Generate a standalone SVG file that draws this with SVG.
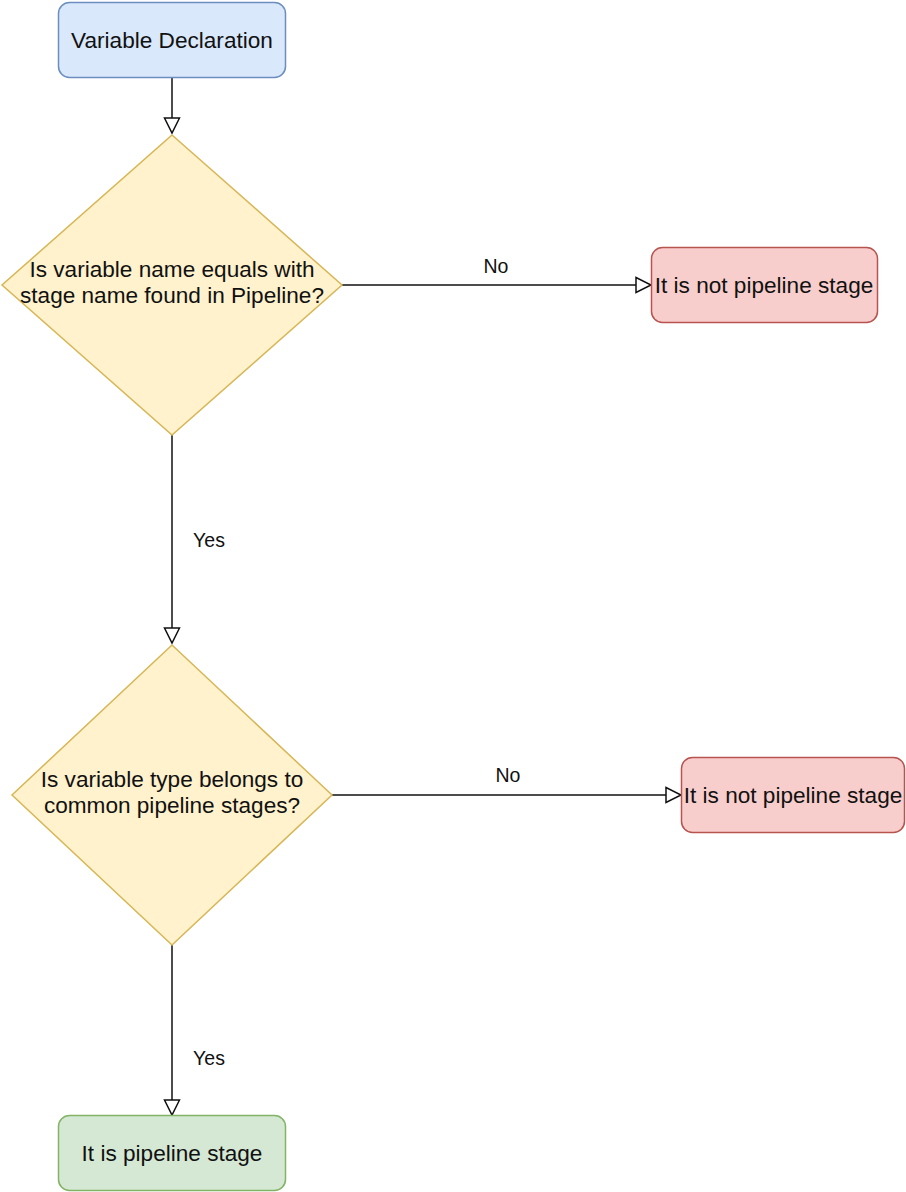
<svg xmlns="http://www.w3.org/2000/svg" width="906" height="1192" viewBox="0 0 906 1192">
<style>
.t{font-family:"Liberation Sans",Arial,sans-serif;font-size:22.6px;fill:#111;text-anchor:middle}
.l{font-family:"Liberation Sans",Arial,sans-serif;font-size:19.5px;fill:#111;text-anchor:middle}
.e{fill:none;stroke:#111;stroke-width:1.5}
.blue{fill:#dae8fc;stroke:#6c8ebf;stroke-width:1.5}
.yel{fill:#fff2cc;stroke:#d6b656;stroke-width:1.5}
.red{fill:#f8cecc;stroke:#b85450;stroke-width:1.5}
.grn{fill:#d5e8d4;stroke:#82b366;stroke-width:1.5}
</style>
<defs>
<marker id="arr" markerUnits="userSpaceOnUse" viewBox="0 0 18 18" markerWidth="18" markerHeight="18" refX="16.5" refY="9" orient="auto">
<path d="M1.5,1.5 L16.5,9 L1.5,16.5 Z" fill="#fff" stroke="#111" stroke-width="1.5"/>
</marker>
</defs>
<g id="connectors">
<path class="e" d="M172,77 L172,133" marker-end="url(#arr)"/>
<path class="e" d="M342,285 L651,285" marker-end="url(#arr)"/>
<text class="l" x="496" y="273">No</text>
<path class="e" d="M172,435 L172,643" marker-end="url(#arr)"/>
<text class="l" x="209" y="547">Yes</text>
<path class="e" d="M332,795 L681,795" marker-end="url(#arr)"/>
<text class="l" x="508" y="782">No</text>
<path class="e" d="M172,945 L172,1115" marker-end="url(#arr)"/>
<text class="l" x="209" y="1065">Yes</text>
</g>
<g id="start">
<rect class="blue" x="58.5" y="2.5" width="227" height="75" rx="11"/>
<text class="t" x="172" y="48">Variable Declaration</text>
</g>
<g id="decision1">
<polygon class="yel" points="172,135 342,285 172,435 2,285"/>
<text class="t" x="172" y="277">Is variable name equals with</text>
<text class="t" x="172" y="303">stage name found in Pipeline?</text>
</g>
<g id="notstage1">
<rect class="red" x="651.5" y="247.5" width="226" height="75" rx="11"/>
<text class="t" x="764" y="293">It is not pipeline stage</text>
</g>
<g id="decision2">
<polygon class="yel" points="172,645 332,795 172,945 12,795"/>
<text class="t" x="172" y="787">Is variable type belongs to</text>
<text class="t" x="172" y="813">common pipeline stages?</text>
</g>
<g id="notstage2">
<rect class="red" x="681.5" y="757.5" width="223" height="75" rx="11"/>
<text class="t" x="793" y="803">It is not pipeline stage</text>
</g>
<g id="stage">
<rect class="grn" x="58.5" y="1115.5" width="227" height="75" rx="11"/>
<text class="t" x="172" y="1161">It is pipeline stage</text>
</g>
</svg>
